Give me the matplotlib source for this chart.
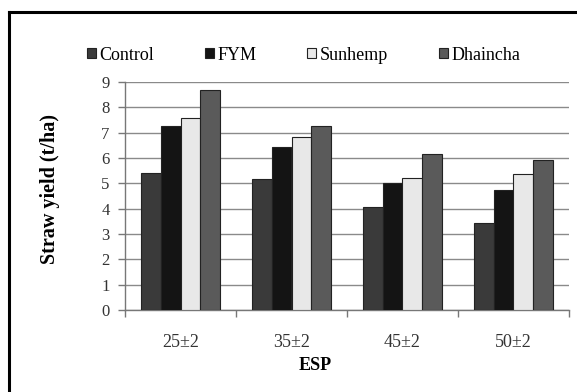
import matplotlib
matplotlib.use("Agg")
import matplotlib.pyplot as plt
from matplotlib.lines import Line2D
from matplotlib.patches import Patch
import numpy as np

categories = ["25±2", "35±2", "45±2", "50±2"]
series_names = ["Control", "FYM", "Sunhemp", "Dhaincha"]
control = [5.40, 5.17, 4.08, 3.45]
fym = [7.25, 6.42, 5.00, 4.72]
sunhemp = [7.56, 6.82, 5.23, 5.35]
dhaincha = [8.68, 7.25, 6.15, 5.93]
yticks = [0, 1, 2, 3, 4, 5, 6, 7, 8, 9]

colors = ["#3a3a3a", "#141414", "#e8e8e8", "#5a5a5a"]

plt.rcParams['font.family'] = ['Liberation Serif', 'DejaVu Serif']

W, H = 577, 392
fig = plt.figure(figsize=(W / 100, H / 100), dpi=100)
ax = fig.add_axes([125 / W, 1 - 310 / H, (569 - 125) / W, (310 - 82) / H])

x = np.arange(len(categories))
w = 0.18
all_series = [control, fym, sunhemp, dhaincha]
for i, (vals, c) in enumerate(zip(all_series, colors)):
    ax.bar(x + (i - 1.5) * w, vals, width=w, color=c, edgecolor="#222222",
           linewidth=0.8, zorder=3, label=series_names[i])

ax.set_xlim(-0.5, len(categories) - 0.5)
ax.set_ylim(0, 9)
ax.set_yticks(yticks)
ax.set_yticklabels([str(v) for v in yticks], fontsize=12, color="#333333")
ax.yaxis.grid(True, color="#8a8a8a", linewidth=1.0, zorder=0)
ax.set_axisbelow(True)

ax.set_xticks(x)
ax.set_xticklabels(categories, fontsize=13, color="#333333")
ax.tick_params(axis="x", which="major", length=0, pad=17)
ax.set_xticks(np.arange(-0.5, len(categories)), minor=True)
ax.tick_params(axis="x", which="minor", length=5, color="#777777", width=1)
ax.tick_params(axis="y", length=5, color="#777777", width=1, pad=6)

for s in ["top", "right"]:
    ax.spines[s].set_visible(False)
for s in ["left", "bottom"]:
    ax.spines[s].set_color("#777777")
    ax.spines[s].set_linewidth(1)

ax.set_xlabel("ESP", fontsize=13, fontweight="bold")
ax.xaxis.set_label_coords((315 - 125) / (569 - 125), -(366 - 310) / (310 - 82))
ax.xaxis.label.set_va("center")
ax.set_ylabel("Straw yield (t/ha)", fontsize=14.5, fontweight="bold")
ax.yaxis.set_label_coords(-(125 - 50) / (569 - 125), (310 - 189) / (310 - 82))
ax.yaxis.label.set_va("center")

handles = [Patch(facecolor=c, edgecolor="#222222", linewidth=0.8) for c in colors]
fig.legend(handles, series_names, loc="center left", bbox_to_anchor=(87 / W, 1 - 55 / H),
           ncol=4, frameon=False, fontsize=13, handlelength=0.5, handleheight=0.5,
           handletextpad=0.2, columnspacing=2.8, borderpad=0, borderaxespad=0)

# outer frame (extends beyond the image to the right and bottom)
fig.add_artist(Line2D([9 / W, 1.01], [1 - 12 / H, 1 - 12 / H], color="black",
                      linewidth=2.2, transform=fig.transFigure))
fig.add_artist(Line2D([9 / W, 9 / W], [-0.01, 1 - 12 / H], color="black",
                      linewidth=2.2, transform=fig.transFigure))

fig.savefig("out.png", dpi=100)
